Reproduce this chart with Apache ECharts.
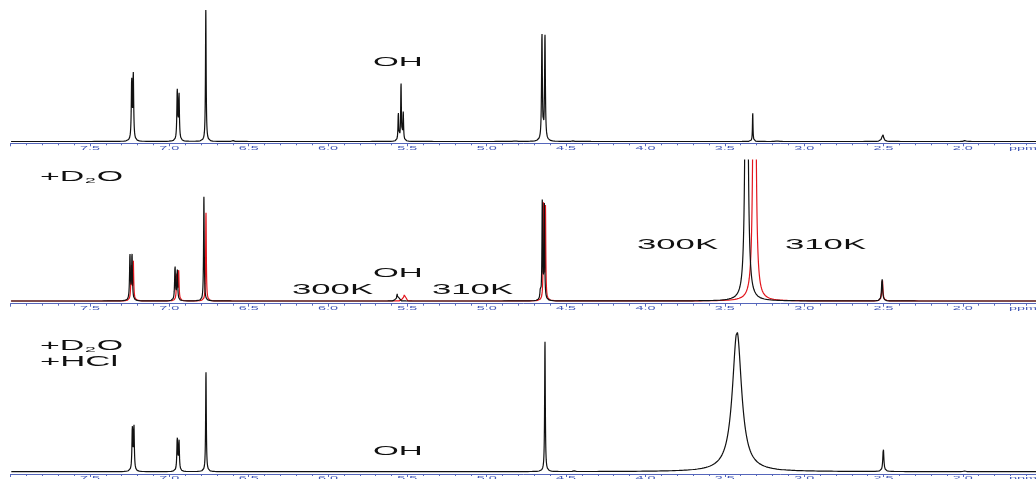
<!DOCTYPE html>
<html>
<head>
<meta charset="utf-8">
<script src="https://cdn.jsdelivr.net/npm/echarts@6/dist/echarts.min.js"></script>
<style>
  html, body { margin: 0; padding: 0; background: #fff; }
  #chart { width: 1036px; height: 479px; }
</style>
</head>
<body>
<div id="chart"></div>
<script>
// Chemical-shift window (ppm) and tick labels
const shiftMin = 1.5;
const shiftMax = 8.0;
const tickValues = [7.5, 7.0, 6.5, 6.0, 5.5, 5.0, 4.5, 4.0, 3.5, 3.0, 2.5, 2.0];
const tickLabels = ['7.5', '7.0', '6.5', '6.0', '5.5', '5.0', '4.5', '4.0', '3.5', '3.0', '2.5', '2.0'];
const unitLabel = 'ppm';

// Peak lists: [shift (ppm), apex intensity (% of panel scale), line width (ppm)]
// Top trace: neat sample
const peaksNeat = [
  [7.237, 49.8, 0.006], [7.227, 53.1, 0.006],
  [6.950, 40.5, 0.006], [6.939, 38.6, 0.006],
  [6.770, 100, 0.005],
  [6.600, 0.8, 0.010],
  [5.557, 22.7, 0.005], [5.540, 45.2, 0.005], [5.526, 22.7, 0.005],
  [4.820, 0.8, 0.010],
  [4.652, 83.0, 0.006], [4.633, 81.5, 0.006],
  [4.460, 0.6, 0.010],
  [3.324, 22.4, 0.004],
  [3.170, 0.7, 0.010],
  [2.505, 6.1, 0.012],
  [1.986, 0.8, 0.012]
];

// Middle traces: after D2O exchange, at 300 K and 310 K
const peaksD2O300K = [
  [7.248, 33.8, 0.006], [7.235, 34.8, 0.006],
  [6.964, 26.0, 0.006], [6.950, 23.9, 0.006],
  [6.782, 74.0, 0.005],
  [5.577, 3.0, 0.005], [5.565, 5.9, 0.005], [5.553, 3.0, 0.005],
  [4.662, 10.0, 0.006],
  [4.650, 72.0, 0.005], [4.637, 70.0, 0.005],
  [3.363, 500, 0.012],
  [2.509, 16.3, 0.008]
];
const peaksD2O310K = [
  [7.240, 27.0, 0.006], [7.227, 29.8, 0.006],
  [6.953, 20.0, 0.006], [6.941, 22.0, 0.006],
  [6.769, 62.9, 0.005],
  [5.533, 2.8, 0.005], [5.521, 5.5, 0.005], [5.509, 2.8, 0.005],
  [4.642, 70.0, 0.005], [4.630, 68.0, 0.005],
  [3.313, 500, 0.012],
  [2.507, 15.5, 0.008]
];

// Bottom trace: D2O + HCl
const peaksD2OHCl = [
  [7.233, 33.4, 0.006], [7.223, 35.0, 0.006],
  [6.950, 25.7, 0.006], [6.939, 23.9, 0.006],
  [6.769, 71.4, 0.005],
  [4.633, 93.4, 0.005],
  [4.450, 0.6, 0.012],
  [3.423, 100, 0.070],
  [2.501, 16.7, 0.008],
  [1.990, 0.5, 0.012]
];

// Annotation texts
const labelOH = 'OH';
const label300K = '300K';
const label310K = '310K';

// ---- line-shape helpers ----
function lorentz(d, w) {
  const t = 2 * d / w;
  return 1 / (1 + t * t);
}

// amplitudes so that each multiplet line tops out at its listed intensity
function solveAmplitudes(peaks) {
  const amp = peaks.map(p => p[1]);
  for (let it = 0; it < 40; it++) {
    for (let i = 0; i < peaks.length; i++) {
      let s = 0;
      for (let j = 0; j < peaks.length; j++) {
        if (j !== i) s += amp[j] * lorentz(peaks[i][0] - peaks[j][0], peaks[j][2]);
      }
      amp[i] = Math.max(0, peaks[i][1] - s);
    }
  }
  return amp;
}

function buildTrace(peaks) {
  const amp = solveAmplitudes(peaks);
  const step = 0.0004;
  const n = Math.round((shiftMax - shiftMin) / step);
  const xs = [];
  for (let k = 0; k <= n; k++) xs.push(shiftMin + k * step);
  peaks.forEach(p => xs.push(p[0]));
  xs.sort((a, b) => a - b);
  return xs.map(x => {
    let y = 0;
    for (let i = 0; i < peaks.length; i++) y += amp[i] * lorentz(x - peaks[i][0], peaks[i][2]);
    return [x, y];
  });
}

// ---- layout ----
const axisBlue = '#5566bb';
const labelBlue = '#4258b8';
const ink = '#111111';
const redInk = '#e3161d';

const panels = [
  { top: 10,    height: 133.3, yMin: -1.37, yMax: 100, labelY: 148 },
  { top: 160,   height: 143.7, yMin: -1.91, yMax: 100, labelY: 308.5 },
  { top: 331.7, height: 142.3, yMin: -1.64, yMax: 100, labelY: 478 }
];

// the plotting area runs a little past the right edge of the canvas
const grids = panels.map(p => ({
  left: 10.6, width: 1031.6, top: p.top, height: p.height,
  containLabel: false, outerBoundsMode: 'none'
}));

const xAxes = panels.map((p, i) => ({
  type: 'value', gridIndex: i, min: shiftMin, max: shiftMax, inverse: true, interval: 0.5,
  axisLine: { show: true, onZero: false, lineStyle: { color: axisBlue, width: 1 } },
  axisTick: { show: true, length: 3, lineStyle: { color: axisBlue, width: 1 } },
  minorTick: { show: true, splitNumber: 5, length: 2, lineStyle: { color: axisBlue, width: 1 } },
  axisLabel: { show: false },
  splitLine: { show: false }
}));

const yAxes = panels.map((p, i) => ({
  type: 'value', gridIndex: i, min: p.yMin, max: p.yMax, show: false
}));

function traceSeries(name, data, idx, color, z) {
  return {
    name, type: 'line', xAxisIndex: idx, yAxisIndex: idx, data,
    symbol: 'none', showSymbol: false, clip: true, z,
    lineStyle: { color, width: 1.2 }, silent: true, animation: false
  };
}

const series = [
  traceSeries('neat', buildTrace(peaksNeat), 0, ink, 3),
  traceSeries('D2O 310K', buildTrace(peaksD2O310K), 1, redInk, 2),
  traceSeries('D2O 300K', buildTrace(peaksD2O300K), 1, ink, 3),
  traceSeries('D2O HCl', buildTrace(peaksD2OHCl), 2, ink, 3)
];

const chart = echarts.init(document.getElementById('chart'), null, { renderer: 'canvas' });
chart.setOption({
  backgroundColor: '#ffffff',
  animation: false,
  grid: grids,
  xAxis: xAxes,
  yAxis: yAxes,
  series
});

// ---- text elements (wide, stretched lettering) ----
const FONT = '"Liberation Sans", Arial, sans-serif';
function wideText(text, x, y, size, sx, color) {
  return {
    type: 'text', x, y, scaleX: sx, silent: true, z: 10,
    style: {
      text, x: 0, y: 0, fill: color || ink,
      font: size + 'px ' + FONT,
      textAlign: 'left', textVerticalAlign: 'middle', align: 'left', verticalAlign: 'middle'
    }
  };
}
function d2oText(x, y) {
  return {
    type: 'group', x, y, scaleX: 2.42, silent: true, z: 10,
    children: [
      { type: 'text', style: { text: '+D', x: 0, y: 0, fill: ink, font: '14px ' + FONT, textAlign: 'left', textVerticalAlign: 'middle', align: 'left', verticalAlign: 'middle' } },
      { type: 'text', style: { text: '2', x: 18.6, y: 3.5, fill: ink, font: '8px ' + FONT, textAlign: 'left', textVerticalAlign: 'middle', align: 'left', verticalAlign: 'middle' } },
      { type: 'text', style: { text: 'O', x: 23.4, y: 0, fill: ink, font: '14px ' + FONT, textAlign: 'left', textVerticalAlign: 'middle', align: 'left', verticalAlign: 'middle' } }
    ]
  };
}

const graphics = [
  wideText(labelOH, 373, 62.5, 13, 2.55),
  d2oText(40, 177),
  wideText(labelOH, 373, 273, 13, 2.55),
  wideText(label300K, 292, 290, 14, 2.48),
  wideText(label310K, 432, 290, 14, 2.48),
  wideText(label300K, 637, 245, 14, 2.48),
  wideText(label310K, 785, 245, 14, 2.48),
  d2oText(40, 346),
  wideText('+HCl', 40, 361.7, 14, 2.48),
  wideText(labelOH, 373, 451, 13, 2.55)
];

// tick labels placed through the axis scales
panels.forEach((p, i) => {
  tickValues.forEach((v, k) => {
    const px = chart.convertToPixel({ xAxisIndex: i }, v);
    graphics.push({
      type: 'text', x: px, y: p.labelY, scaleX: 2.4, silent: true, z: 10,
      style: {
        text: tickLabels[k], x: 0, y: 0, fill: labelBlue, font: '6px ' + FONT,
        textAlign: 'center', textVerticalAlign: 'middle', align: 'center', verticalAlign: 'middle'
      }
    });
  });
  graphics.push(wideText(unitLabel, 1009, p.labelY, 6, 2.4, labelBlue));
});

chart.setOption({ graphic: graphics });
</script>
</body>
</html>
